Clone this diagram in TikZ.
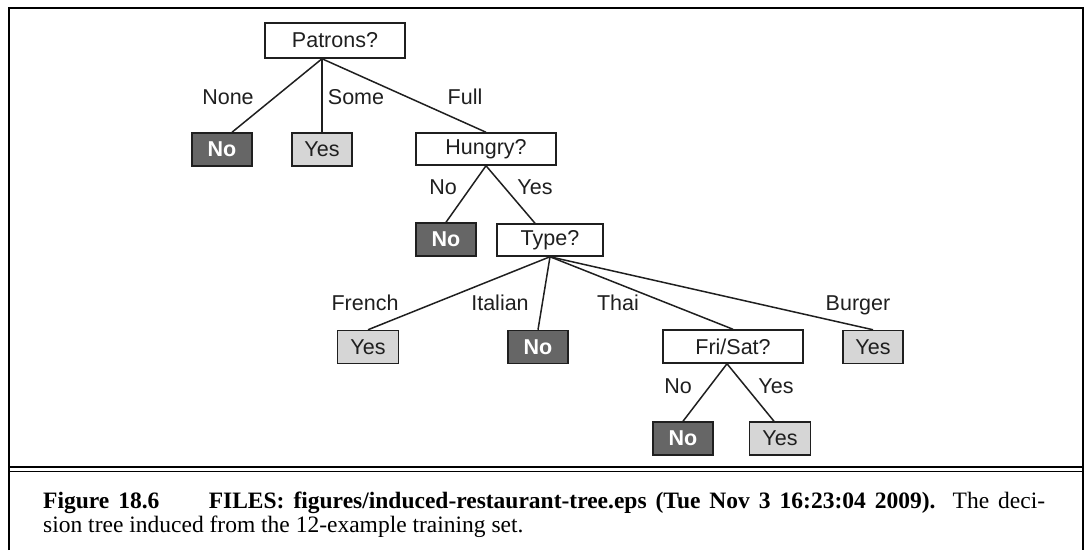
\documentclass[tikz,border=0pt]{standalone}
\usepackage{fontspec}
\setmainfont{Liberation Serif}
\newfontfamily\treefont{Liberation Sans}
\usepackage{xcolor}
\usetikzlibrary{calc}

\definecolor{boxneg}{gray}{0.40}
\definecolor{boxpos}{gray}{0.84}
\definecolor{ink}{gray}{0.12}

\tikzset{
 attr/.style={draw=ink, line width=1.5pt, fill=white, inner sep=0pt,
   minimum height=33pt, text=ink, font=\treefont\fontsize{21.5}{24}\selectfont},
 leafno/.style={attr, fill=boxneg, text=white, minimum width=60pt,
   font=\treefont\bfseries\fontsize{21.5}{24}\selectfont},
 leafyes/.style={attr, fill=boxpos, minimum width=60pt},
 val/.style={inner sep=0pt, text=ink, font=\treefont\fontsize{21.5}{24}\selectfont},
 branch/.style={draw=ink, line width=1.5pt},
 caption/.style={anchor=base west, inner sep=0pt, font=\fontsize{23.5}{25}\selectfont},
}

\begin{document}
\begin{tikzpicture}[x=1pt,y=-1pt]
\useasboundingbox (0,0) rectangle (1087,550);

 %frame:
 \draw[line width=1.4pt] (9,550) -- (9,8) -- (1083,8) -- (1083,550);
 \draw[line width=1.5pt] (9,467) -- (1083,467);
 \draw[line width=1.1pt] (9,471.5) -- (1083,471.5);

 %tests and leaves:
 \node[attr, minimum width=140pt, minimum height=35pt] (patrons) at (335,40.5) {Patrons?};
 \node[leafno] (none) at (222,149.5) {No};
 \node[leafyes] (some) at (322,149.5) {Yes};
 \node[attr, minimum width=140pt, minimum height=32pt] (hungry) at (486,149) {Hungry?};
 \node[leafno] (nothungry) at (446,239.5) {No};
 \node[attr, minimum width=106pt, minimum height=32pt] (type) at (550,240) {Type?};
 \node[leafyes, minimum width=61pt] (french) at (368,347) {Yes};
 \node[leafno] (italian) at (538,347) {No};
 \node[attr, minimum width=140pt] (frisat) at (733,346.5) {Fri/Sat?};
 \node[leafyes] (burger) at (873,347) {Yes};
 \node[leafno] (notweekend) at (683,438.5) {No};
 \node[leafyes, minimum width=61pt] (weekend) at (780,438.5) {Yes};

 \coordinate (pbot) at ($(patrons.south)+(-13,0)$);
 \coordinate (fbot) at ($(frisat.south)+(-6,0)$);

 %branches:
 \draw[branch] (pbot) -- ($(none.north)+(10,0)$);
 \draw[branch] (pbot) -- (some.north);
 \draw[branch] (pbot) -- (hungry.north);
 \draw[branch] (hungry.south) -- (nothungry.north);
 \draw[branch] (hungry.south) -- ($(type.north)+(-15,0)$);
 \draw[branch] (type.south) -- (french.north);
 \draw[branch] (type.south) -- (italian.north);
 \draw[branch] (type.south) -- (frisat.north);
 \draw[branch] (type.south) -- (burger.north);
 \draw[branch] (fbot) -- (notweekend.north);
 \draw[branch] (fbot) -- ($(weekend.north)+(-6,0)$);

 %branch values:
 \node[val] (vnone) at (228,97) {None};
 \node[val] (vsome) at (356,97) {Some};
 \node[val] (vfull) at (465,97) {Full};
 \node[val] (vhno) at (443,187) {No};
 \node[val] (vhyes) at (535,187) {Yes};
 \node[val] (vfrench) at (365,303) {French};
 \node[val] (vitalian) at (500,303) {Italian};
 \node[val] (vthai) at (618,303) {Thai};
 \node[val] (vburger) at (858,305) {Burger};
 \node[val] (vfno) at (678,386) {No};
 \node[val] (vfyes) at (776,386) {Yes};

 %caption:
 \node[caption] (capA) at (43,508) {\makebox[1002pt][s]{\textbf{Figure 18.6\hspace{2.1em}FILES: figures/induced-restaurant-tree.eps (Tue Nov 3 16:23:04 2009).} The deci-}};
 \node[caption] (capB) at (43,532) {sion tree induced from the 12-example training set.};
\end{tikzpicture}
\end{document}
